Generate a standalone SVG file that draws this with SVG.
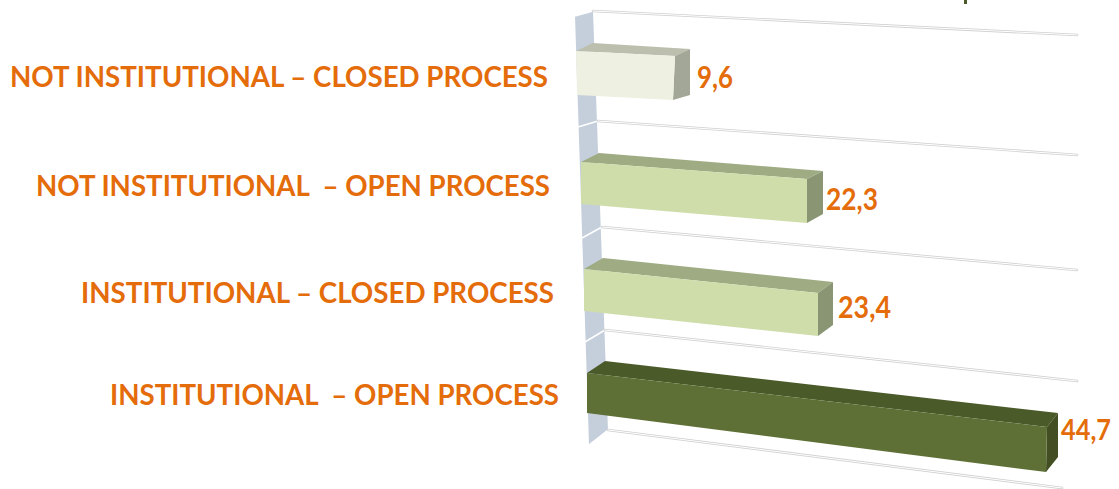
<svg xmlns="http://www.w3.org/2000/svg" width="1119" height="489" viewBox="0 0 1119 489">
<style>
.lbl{font-family:Lato,"Open Sans","Liberation Sans",sans-serif;font-weight:bold;font-size:28px;fill:#e46c0a}
.val{font-family:Lato,"Open Sans","Liberation Sans",sans-serif;font-weight:bold;font-size:31px;fill:#e46c0a}
.gridO{stroke:#d0d0d0;stroke-width:2.6;fill:none;stroke-linecap:round}
.gridI{stroke:#ffffff;stroke-width:1;fill:none;stroke-linecap:round}
.wallL{stroke:#ffffff;stroke-width:1.5;fill:none}
</style>
<rect width="1119" height="489" fill="#ffffff"/>
<g id="wall">
<polygon points="575,16 593,11 608,430 589,445" fill="#c5cfdc"/>
<line class="wallL" x1="575" y1="16" x2="593" y2="11"/>
<line class="wallL" x1="578" y1="127" x2="598" y2="121"/>
<line class="wallL" x1="582" y1="238" x2="602" y2="227"/>
<line class="wallL" x1="585" y1="342" x2="605" y2="330"/>
<line class="wallL" x1="589" y1="445" x2="608" y2="430"/>
</g>
<g id="gridlines">
<path class="gridO" d="M593,11 L1077,35 M598,121 L1077,155 M602,227 L1077,270 M605,330 L1077,381 M608,430 L1062,488"/>
<path class="gridI" d="M593,11 L1077,35 M598,121 L1077,155 M602,227 L1077,270 M605,330 L1077,381 M608,430 L1062,488"/>
</g>
<rect x="964" y="0" width="3" height="4" fill="#4b5a29"/>
<g id="bar1">
<polygon points="576,51 593,43 690,49 675,56" fill="#bcbfae"/>
<polygon points="675,56 690,49 690,95 673,100" fill="#a3a797"/>
<polygon points="576,51 675,56 673,100 577,95" fill="#eef0e2"/>
</g>
<g id="bar2">
<polygon points="581,162 599,153 823,171 807,179" fill="#9fac83"/>
<polygon points="807,179 823,171 823,214 807,223" fill="#8a9673"/>
<polygon points="581,162 807,179 807,223 581,204" fill="#cfddaa"/>
</g>
<g id="bar3">
<polygon points="584,269 603,258 833,282 818,293" fill="#9fac83"/>
<polygon points="818,293 833,282 833,325 818,336" fill="#8a9673"/>
<polygon points="584,269 818,293 818,336 584,311" fill="#cfddaa"/>
</g>
<g id="bar4">
<polygon points="587,373 605,361 1058,413 1047,427" fill="#4b5a29"/>
<polygon points="1047,427 1058,413 1058,457 1046,472" fill="#434e22"/>
<polygon points="587,373 1047,427 1046,472 587,413" fill="#5e7035"/>
</g>
<g id="labels">
<text class="lbl" x="10" y="87" textLength="538" lengthAdjust="spacingAndGlyphs">NOT INSTITUTIONAL – CLOSED PROCESS</text>
<text class="lbl" x="36" y="196" textLength="514" lengthAdjust="spacingAndGlyphs" xml:space="preserve">NOT INSTITUTIONAL  – OPEN PROCESS</text>
<text class="lbl" x="81" y="303" textLength="473" lengthAdjust="spacingAndGlyphs">INSTITUTIONAL – CLOSED PROCESS</text>
<text class="lbl" x="110" y="405" textLength="449" lengthAdjust="spacingAndGlyphs" xml:space="preserve">INSTITUTIONAL  – OPEN PROCESS</text>
</g>
<g id="values">
<text class="val" x="697" y="88" textLength="36" lengthAdjust="spacingAndGlyphs">9,6</text>
<text class="val" x="826" y="210" textLength="52" lengthAdjust="spacingAndGlyphs">22,3</text>
<text class="val" x="838" y="318" textLength="53" lengthAdjust="spacingAndGlyphs">23,4</text>
<text class="val" x="1061" y="440" textLength="50" lengthAdjust="spacingAndGlyphs" style="font-size:28px">44,7</text>
</g>
</svg>
